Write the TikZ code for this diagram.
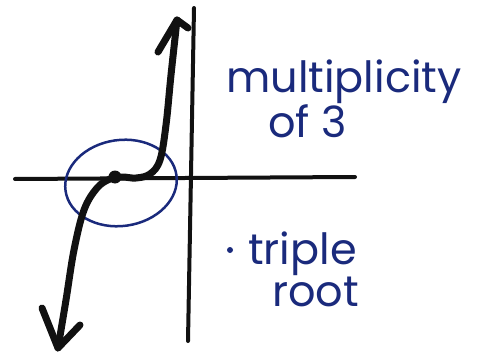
\documentclass[tikz,border=0pt]{standalone}
\usepackage{fontspec}
\newfontfamily\handfont{Poppins}
\definecolor{ink}{HTML}{111111}
\definecolor{pen}{HTML}{1A2A7C}

\begin{document}
\begin{tikzpicture}[
    x=1pt, y=-1pt,
    every node/.style={font=\handfont},
    axis/.style={ink, line width=4pt, line cap=round},
    graph/.style={ink, line width=7pt, line cap=round, line join=round},
    loop/.style={pen, line width=2.5pt},
    dot/.style={circle, fill=ink, inner sep=0pt, minimum size=13pt},
    bullet/.style={circle, fill=pen, inner sep=0pt, minimum size=6pt},
    note/.style={text=pen, inner sep=0pt, anchor=base west, font=\handfont\fontsize{43}{47}\selectfont},
]
\useasboundingbox (0,0) rectangle (488,356);

% ============================================================ axes
\coordinate (xl) at (15,179);
\coordinate (xr) at (355,177);
\coordinate (yt) at (194,8);
\coordinate (yb) at (188,341);
\draw[axis] (xl) -- (xr);
\draw[axis] (yt) -- (yb);

% ============================================================ the circled root
\draw[loop, rotate around={8:(121,183)}] (121,183) ellipse [x radius=56, y radius=43];

% ============================================================ the cubic
\coordinate (lo) at (58,348);
\coordinate (hi) at (177,20);
\draw[graph] plot[smooth, tension=0.6] coordinates {(58,348) (66,300) (74,250) (84,210) (97,188) (110,179) (122,177) (136,178) (150,174) (160,160) (166,125) (171,75) (177,20)};
\draw[graph] (42,308) -- (lo) -- (80,325);
\draw[graph] (158,52) -- (hi) -- (188,28);
\node[dot] (root) at (115,177) {};

% ============================================================ notes
\node[note] (mult) at (226,92) {multiplicity};
\node[note] (of) at (268,137) {of 3};
\node[bullet] (pt) at (230,250) {};
\node[note] (trip) at (248,264) {triple};
\node[note] (rt) at (272,306) {root};

\end{tikzpicture}
\end{document}
